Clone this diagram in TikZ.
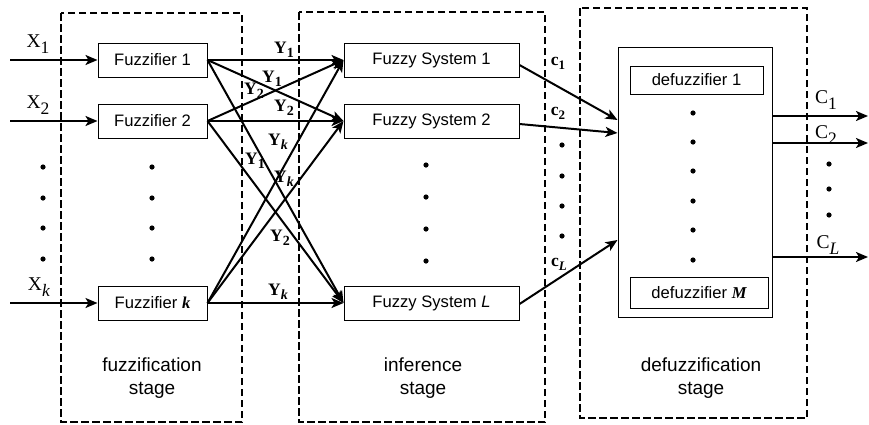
\documentclass[tikz,border=0pt]{standalone}
\usepackage{fontspec}
\setmainfont{Liberation Serif}
\setsansfont{Liberation Sans}
\usetikzlibrary{arrows.meta}

% lowered, slightly smaller index for the signal names
\newcommand\lsub[1]{\raisebox{-0.27em}{\fontsize{17.5}{17.5}\selectfont #1}}
\newcommand\ysub[1]{\raisebox{-0.24em}{\fontsize{14}{14}\selectfont\bfseries #1}}
\newcommand\csub[1]{\raisebox{-0.22em}{\fontsize{13}{13}\selectfont\bfseries #1}}

\begin{document}
\begin{tikzpicture}[x=1pt,y=-1pt,
  box/.style={draw, line width=1pt, inner sep=0pt,
    font=\sffamily\fontsize{16.6}{19}\selectfont},
  fuzbox/.style={box, minimum width=109pt, minimum height=34pt},
  sysbox/.style={box, minimum width=175pt, minimum height=34pt},
  stagebox/.style={draw, line width=2pt, dash pattern=on 7.5pt off 3.5pt},
  stagetext/.style={align=center, inner sep=0pt,
    font=\sffamily\fontsize{19}{23}\selectfont},
  link/.style={line width=2pt, -{Stealth[length=12pt,width=10pt,inset=3pt]}},
  sig/.style={inner sep=0pt, font=\fontsize{19.5}{19.5}\selectfont},
  ylab/.style={inner sep=0pt, font=\bfseries\fontsize{17.5}{17.5}\selectfont},
  clab/.style={inner sep=0pt, font=\bfseries\fontsize{17.5}{17.5}\selectfont},
  dotmark/.style={fill=black}
]
\useasboundingbox (0,0) rectangle (869,424);

% stage frames
\draw[stagebox] (61,13) rectangle (242,422);
\draw[stagebox] (299,12) rectangle (545,422);
\draw[stagebox] (580,8) rectangle (807,418);

% stage captions
\node[stagetext] (capf) at (152,378) {fuzzification\\stage};
\node[stagetext] (capi) at (423,378) {inference\\stage};
\node[stagetext] (capd) at (701,378) {defuzzification\\stage};

% fuzzifiers
\node[fuzbox] (f1) at (152.5,60) {Fuzzifier 1};
\node[fuzbox] (f2) at (152.5,121) {Fuzzifier 2};
\node[fuzbox] (fk) at (152.5,303) {Fuzzifier {\rmfamily\bfseries\itshape k}};

% fuzzy systems
\node[sysbox] (s1) at (431.5,60) {Fuzzy System 1};
\node[sysbox] (s2) at (431.5,121) {Fuzzy System 2};
\node[sysbox] (sl) at (431.5,303) {Fuzzy System \textit{L}};

% defuzzifier block
\node[box, minimum width=154pt, minimum height=270pt] (dz) at (695,182) {};
\node[box, minimum width=133pt, minimum height=28pt] (d1) at (696.5,80) {defuzzifier 1};
\node[box, minimum width=138pt, minimum height=31pt] (dm) at (699,292.5)
  {defuzzifier {\rmfamily\bfseries\itshape M}};

% inputs
\coordinate (in1) at (10,60);
\coordinate (in2) at (10,121);
\coordinate (ink) at (10,303);
\draw[link] (in1) -- (f1.west);
\draw[link] (in2) -- (f2.west);
\draw[link] (ink) -- (fk.west);
\node[sig] (lx1) at (38,44) {X\lsub{1}};
\node[sig] (lx2) at (38,105) {X\lsub{2}};
\node[sig] (lxk) at (39,287) {X\lsub{\textit{k}}};

% fuzzifier -> fuzzy system links
\foreach \a in {f1,f2,fk}
  \foreach \b in {s1,s2,sl}
    \draw[link] (\a.east) -- (\b.west);

\node[ylab] (y1a) at (284,50) {Y\ysub{1}};
\node[ylab] (y1b) at (272,79) {Y\ysub{1}};
\node[ylab] (y2a) at (254,91) {Y\ysub{2}};
\node[ylab] (y2b) at (284,108) {Y\ysub{2}};
\node[ylab] (yka) at (278,142) {Y\ysub{\itshape k}};
\node[ylab] (y1c) at (255,161) {Y\ysub{1}};
\node[ylab] (ykb) at (284,179) {Y\ysub{\itshape k}};
\node[ylab] (y2c) at (280,238) {Y\ysub{2}};
\node[ylab] (ykc) at (278,292) {Y\ysub{\itshape k}};

% fuzzy system -> defuzzifier links
\draw[link] ([yshift=-5pt]s1.east) -- ([yshift=62pt]dz.west);
\draw[link] ([yshift=-3pt]s2.east) -- ([yshift=49pt]dz.west);
\draw[link] ([yshift=-1pt]sl.east) -- ([yshift=-58pt]dz.west);
\node[clab] (c1) at (558,63) {c\csub{1}};
\node[clab] (c2) at (558,113) {c\csub{2}};
\node[clab] (cl) at (559,264) {c\csub{\itshape L}};

% outputs
\coordinate (o1) at (868,116);
\coordinate (o2) at (868,143);
\coordinate (ol) at (868,257);
\draw[link] ([yshift=66pt]dz.east) -- (o1);
\draw[link] ([yshift=39pt]dz.east) -- (o2);
\draw[link] ([yshift=-75pt]dz.east) -- (ol);
\node[sig] (lc1) at (826,100) {C\lsub{1}};
\node[sig] (lc2) at (826,135) {C\lsub{2}};
\node[sig] (lcl) at (828,245) {C\lsub{\textit{L}}};

% ellipsis dots
\foreach \y in {167,198,228,259} {
  \fill[dotmark] (43,\y) circle (2.6pt);
  \fill[dotmark] (152,\y) circle (2.6pt);
}
\foreach \y in {165,197,229,261} \fill[dotmark] (426,\y) circle (2.6pt);
\foreach \y in {145,176,206,236} \fill[dotmark] (562,\y) circle (2.6pt);
\foreach \y in {113,142,171,201,230,260} \fill[dotmark] (693,\y) circle (2.6pt);
\foreach \y in {164,189,215} \fill[dotmark] (829,\y) circle (2.6pt);
\end{tikzpicture}
\end{document}
